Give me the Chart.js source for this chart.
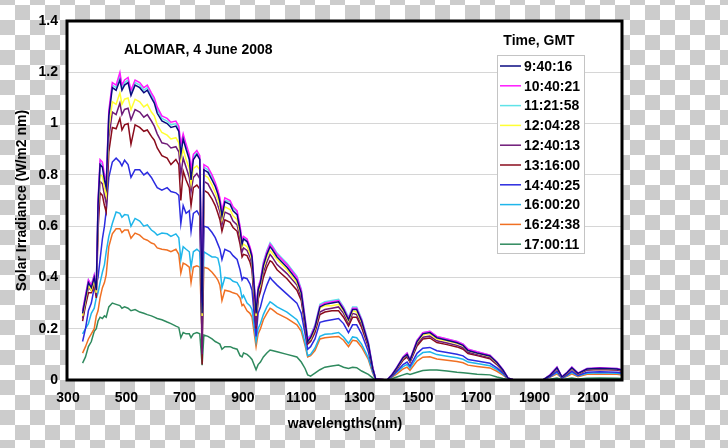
<!DOCTYPE html>
<html>
<head>
<meta charset="utf-8">
<script src="https://cdn.jsdelivr.net/npm/chart.js@4.4.1/dist/chart.umd.min.js"></script>
<style>
html, body { margin: 0; padding: 0; }
body {
  width: 728px; height: 448px; overflow: hidden;
  background-color: #fff;
  background-image: conic-gradient(#cccccc 25%, #ffffff 0 50%, #cccccc 0 75%, #ffffff 0);
  background-size: 30px 30px;
  background-position: 0px 5px;
}
</style>
</head>
<body>
<canvas id="spectra" width="728" height="448"></canvas>
<script>
// wavelengths in nm
const wavelengths = [
  350, 360, 370, 380, 390, 397, 403, 410, 418, 425,
  431, 440, 452, 465, 478, 485, 494, 506, 516, 530,
  546, 560, 572, 586, 596, 606, 622, 640, 653, 670,
  680, 687, 695, 705, 716, 722, 730, 742, 752, 760,
  766, 780, 794, 805, 814, 821, 828, 838, 856, 866,
  880, 890, 897, 902, 914, 924, 931, 945, 952, 960,
  970, 982, 993, 1000, 1017, 1051, 1085, 1100, 1113, 1122,
  1132, 1147, 1164, 1181, 1205, 1228, 1245, 1262, 1276, 1290,
  1307, 1330, 1345, 1355, 1394, 1410, 1428, 1449, 1463, 1473,
  1497, 1517, 1541, 1565, 1600, 1634, 1655, 1672, 1703, 1747,
  1771, 1792, 1809, 1830, 1929, 1953, 1977, 1994, 2012, 2028,
  2049, 2080, 2124, 2183, 2200
];

const xTicks = [300, 500, 700, 900, 1100, 1300, 1500, 1700, 1900, 2100];
const yTicks = [0, 0.2, 0.4, 0.6, 0.8, 1, 1.2, 1.4];

const times = ['9:40:16', '10:40:21', '11:21:58', '12:04:28', '12:40:13',
               '13:16:00', '14:40:25', '16:00:20', '16:24:38', '17:00:11'];

// irradiance, W/m2 nm
const t0940 = [
  .26, .32, .38, .36, .40, .35, .68, .84, .83, .78,
  .75, 1.03, 1.14, 1.13, 1.17, 1.13, 1.15, 1.16, 1.11, 1.15,
  1.14, 1.12, 1.13, 1.10, 1.08, 1.04, 1.01, 1.0, .985, .99,
  .97, .88, .94, .90, .86, .78, .86, .88, .86, .26,
  .82, .81, .78, .755, .725, .695, .64, .695, .685, .66,
  .645, .585, .53, .55, .54, .51, .48, .26, .35, .38,
  .445, .49, .52, .51, .48, .44, .39, .34, .23, .15,
  .165, .205, .285, .295, .30, .305, .275, .235, .275, .275,
  .23, .14, .045, .004, 0, .018, .048, .087, .10, .077,
  .15, .18, .185, .165, .155, .145, .135, .115, .105, .094,
  .068, .038, .007, 0, 0, .018, .048, .011, .029, .048,
  .026, .043, .046, .043, .038
];
const t1040 = [
  .27, .33, .39, .37, .41, .36, .70, .86, .85, .80,
  .77, 1.05, 1.16, 1.15, 1.20, 1.15, 1.17, 1.18, 1.13, 1.17,
  1.16, 1.14, 1.15, 1.12, 1.10, 1.065, 1.03, 1.02, 1.005, 1.01,
  .99, .92, .96, .92, .88, .82, .88, .895, .875, .30,
  .84, .83, .80, .77, .74, .71, .66, .71, .70, .675,
  .66, .60, .545, .56, .55, .52, .49, .28, .36, .39,
  .455, .50, .53, .52, .49, .45, .40, .35, .24, .16,
  .17, .21, .29, .30, .305, .31, .28, .24, .28, .28,
  .235, .145, .05, .005, 0, .02, .05, .09, .105, .08,
  .155, .185, .19, .17, .16, .15, .14, .12, .11, .097,
  .07, .04, .008, 0, 0, .02, .05, .012, .03, .05,
  .027, .045, .048, .045, .04
];
const t1121 = [
  .27, .33, .39, .37, .41, .36, .69, .85, .84, .79,
  .76, 1.04, 1.15, 1.14, 1.19, 1.14, 1.16, 1.17, 1.12, 1.16,
  1.15, 1.13, 1.14, 1.11, 1.09, 1.055, 1.02, 1.01, .995, 1.0,
  .98, .91, .95, .91, .87, .81, .87, .885, .865, .30,
  .83, .82, .79, .765, .735, .70, .655, .70, .695, .67,
  .655, .595, .54, .555, .545, .515, .485, .28, .36, .39,
  .46, .505, .535, .525, .495, .455, .405, .355, .245, .165,
  .175, .215, .295, .305, .31, .315, .285, .245, .285, .285,
  .24, .15, .05, .005, 0, .02, .05, .09, .105, .08,
  .155, .185, .19, .17, .16, .15, .14, .12, .11, .097,
  .07, .04, .008, 0, 0, .02, .05, .012, .03, .05,
  .027, .045, .048, .045, .04
];
const t1204 = [
  .25, .31, .37, .35, .39, .34, .655, .80, .795, .75,
  .72, .98, 1.085, 1.075, 1.12, 1.075, 1.095, 1.10, 1.055, 1.095,
  1.085, 1.065, 1.075, 1.045, 1.03, .995, .965, .955, .94, .945,
  .925, .86, .90, .86, .825, .765, .825, .835, .82, .25,
  .80, .79, .76, .73, .705, .675, .625, .675, .665, .64,
  .625, .57, .52, .53, .52, .495, .465, .25, .34, .37,
  .435, .48, .505, .495, .47, .43, .38, .335, .23, .15,
  .16, .20, .28, .29, .29, .295, .27, .23, .27, .265,
  .225, .14, .045, .004, 0, .019, .047, .085, .10, .076,
  .147, .175, .18, .16, .152, .142, .133, .114, .104, .092,
  .066, .038, .007, 0, 0, .019, .047, .011, .028, .047,
  .025, .043, .046, .043, .038
];
const t1240 = [
  .24, .30, .36, .35, .38, .33, .63, .775, .765, .72,
  .69, .945, 1.045, 1.035, 1.08, 1.035, 1.055, 1.06, 1.015, 1.055,
  1.045, 1.025, 1.035, 1.01, .99, .96, .925, .92, .905, .91,
  .89, .80, .865, .83, .79, .735, .79, .805, .785, .10,
  .775, .765, .735, .71, .68, .655, .605, .655, .645, .62,
  .605, .55, .50, .515, .505, .48, .45, .21, .33, .36,
  .42, .46, .49, .48, .45, .415, .37, .32, .22, .145,
  .155, .195, .265, .275, .28, .285, .26, .22, .26, .255,
  .215, .135, .045, .004, 0, .018, .045, .081, .095, .072,
  .14, .167, .171, .153, .144, .135, .126, .108, .099, .087,
  .063, .036, .007, 0, 0, .018, .045, .011, .027, .045,
  .024, .04, .043, .04, .036
];
const t1316 = [
  .23, .29, .34, .34, .37, .32, .58, .73, .72, .68,
  .655, .89, .985, .98, 1.02, .975, .995, 1.0, .92, .995,
  .985, .97, .975, .95, .935, .905, .875, .865, .84, .86,
  .84, .70, .815, .78, .75, .68, .75, .76, .745, .06,
  .74, .73, .705, .68, .65, .625, .58, .625, .615, .595,
  .58, .53, .48, .49, .485, .46, .43, .20, .315, .345,
  .40, .44, .465, .46, .43, .395, .35, .31, .21, .14,
  .15, .185, .255, .265, .27, .27, .245, .21, .245, .245,
  .205, .13, .044, .004, 0, .017, .043, .077, .09, .069,
  .133, .16, .164, .146, .138, .129, .12, .103, .095, .083,
  .06, .034, .007, 0, 0, .017, .043, .01, .026, .043,
  .023, .039, .041, .039, .034
];
const t1440 = [
  .15, .20, .27, .30, .36, .37, .40, .47, .55, .60,
  .66, .79, .85, .865, .85, .835, .857, .84, .79, .82,
  .82, .80, .81, .79, .77, .75, .74, .75, .735, .73,
  .72, .61, .68, .65, .66, .58, .65, .66, .64, .20,
  .60, .595, .575, .555, .53, .51, .47, .51, .50, .485,
  .47, .43, .39, .40, .395, .375, .35, .17, .26, .285,
  .33, .37, .40, .39, .37, .335, .30, .26, .18, .12,
  .13, .16, .225, .23, .235, .24, .22, .185, .215, .215,
  .18, .11, .038, .003, 0, .013, .034, .06, .07, .054,
  .104, .124, .127, .114, .107, .10, .094, .08, .074, .065,
  .047, .027, .005, 0, 0, .013, .034, .008, .02, .034,
  .018, .03, .032, .03, .027
];
const t1600 = [
  .18, .20, .22, .26, .28, .32, .34, .38, .42, .45,
  .50, .56, .61, .655, .65, .635, .645, .643, .60, .63,
  .62, .60, .605, .585, .577, .565, .573, .57, .56, .57,
  .555, .47, .52, .51, .50, .44, .50, .51, .50, .16,
  .50, .49, .48, .48, .475, .44, .36, .40, .395, .385,
  .38, .36, .32, .33, .30, .29, .275, .15, .20, .22,
  .255, .285, .305, .30, .285, .265, .235, .205, .145, .095,
  .10, .125, .17, .178, .18, .185, .168, .143, .168, .165,
  .14, .087, .03, .003, 0, .012, .03, .052, .061, .046,
  .09, .107, .11, .099, .093, .087, .081, .07, .064, .056,
  .041, .023, .005, 0, 0, .012, .029, .007, .017, .029,
  .016, .026, .028, .026, .023
];
const t1624 = [
  .105, .13, .16, .18, .20, .25, .27, .32, .36, .38,
  .41, .52, .57, .59, .59, .575, .585, .585, .553, .573,
  .565, .55, .545, .534, .53, .515, .51, .507, .50, .51,
  .49, .417, .456, .45, .44, .38, .44, .445, .44, .17,
  .44, .435, .42, .405, .39, .37, .31, .35, .345, .34,
  .335, .32, .29, .295, .27, .26, .245, .13, .18, .20,
  .235, .26, .28, .275, .26, .24, .215, .19, .135, .09,
  .095, .115, .16, .165, .168, .17, .155, .13, .155, .152,
  .128, .08, .027, .003, 0, .01, .024, .043, .05, .038,
  .074, .089, .091, .082, .077, .072, .067, .058, .053, .047,
  .034, .019, .004, 0, 0, .01, .024, .006, .014, .024,
  .013, .022, .023, .022, .019
];
const t1700 = [
  .066, .09, .13, .15, .19, .20, .23, .245, .24, .25,
  .245, .285, .30, .295, .29, .28, .285, .28, .27, .275,
  .265, .26, .255, .25, .245, .24, .235, .226, .22, .21,
  .205, .165, .185, .18, .18, .165, .18, .185, .18, .058,
  .175, .17, .16, .15, .145, .14, .12, .13, .13, .125,
  .12, .095, .09, .105, .10, .09, .08, .04, .06, .07,
  .09, .105, .117, .115, .11, .10, .09, .07, .045, .02,
  .015, .027, .04, .05, .055, .058, .05, .045, .05, .048,
  .035, .022, .008, 0, 0, .005, .012, .02, .025, .022,
  .03, .037, .039, .039, .035, .03, .028, .026, .022, .02,
  .012, .006, .002, 0, 0, .003, .008, .002, .005, .008,
  .004, .007, .008, .007, .006
];

const series = [t0940, t1040, t1121, t1204, t1240, t1316, t1440, t1600, t1624, t1700];
const colors = ['#0a0a80', '#ff1aff', '#5fe3e8', '#ffff33', '#6e1a78',
                '#8a0c1c', '#2b2be0', '#1fb6ea', '#f07023', '#2f8a5e'];

const boldFont = { family: '"Liberation Sans", Arial, sans-serif', size: 14, weight: 'bold' };

const datasets = times.map((t, i) => ({
  label: t,
  data: wavelengths.map((w, k) => ({ x: w, y: series[i][k] })),
  borderColor: colors[i],
  borderWidth: 1.5,
  pointRadius: 0,
  tension: 0,
  fill: false
}));

// white plot area, black frame, in-plot titles and the legend box
const plotFrame = {
  id: 'plotFrame',
  beforeDraw(chart) {
    const { ctx, chartArea: a } = chart;
    ctx.save();
    ctx.fillStyle = '#fff';
    ctx.fillRect(a.left, a.top, a.right - a.left, a.bottom - a.top);
    ctx.restore();
  },
  afterDraw(chart) {
    const { ctx, chartArea: a } = chart;
    ctx.save();
    ctx.strokeStyle = '#000';
    ctx.lineWidth = 3;
    ctx.strokeRect(a.left - 1, a.top, a.right - a.left + 1, a.bottom - a.top);

    ctx.fillStyle = '#000';
    ctx.font = 'bold 14px "Liberation Sans", Arial, sans-serif';
    ctx.textBaseline = 'middle';
    ctx.textAlign = 'left';
    ctx.fillText('ALOMAR, 4 June 2008', 124, 50);
    ctx.textAlign = 'center';
    ctx.fillText('Time, GMT', 539, 41);

    ctx.fillStyle = '#fff';
    ctx.fillRect(497, 55, 87, 198);
    ctx.strokeStyle = '#c4c4c4';
    ctx.lineWidth = 1;
    ctx.strokeRect(497.5, 55.5, 87, 198);
    chart.data.datasets.forEach((ds, i) => {
      const y = 66 + i * 19.8;
      ctx.strokeStyle = ds.borderColor;
      ctx.lineWidth = 1.5;
      ctx.beginPath();
      ctx.moveTo(500, y);
      ctx.lineTo(521, y);
      ctx.stroke();
      ctx.fillStyle = '#000';
      ctx.textAlign = 'left';
      ctx.fillText(ds.label, 524, y + 1);
    });
    ctx.restore();
  }
};

new Chart(document.getElementById('spectra'), {
  type: 'line',
  data: { datasets },
  options: {
    responsive: false,
    animation: false,
    layout: { padding: { top: 21, right: 106, left: 0, bottom: 0 } },
    plugins: { legend: { display: false }, tooltip: { enabled: false } },
    scales: {
      x: {
        type: 'linear',
        min: 300,
        max: 2200,
        afterBuildTicks: axis => { axis.ticks = xTicks.map(v => ({ value: v })); },
        afterFit: axis => { axis.height = 68; },
        grid: { display: false, drawTicks: false },
        border: { display: false },
        ticks: { padding: 10, color: '#000', font: boldFont, maxRotation: 0, autoSkip: false,
                 callback: v => String(v) },
        title: { display: true, text: 'wavelengths(nm)', color: '#000', font: boldFont,
                 padding: { top: 0, bottom: 15 } }
      },
      y: {
        min: 0,
        max: 1.4,
        afterBuildTicks: axis => { axis.ticks = yTicks.map(v => ({ value: v })); },
        afterFit: axis => { axis.width = 68; },
        grid: { color: '#d6d6d6', lineWidth: 1, drawTicks: false },
        border: { display: false },
        ticks: { padding: 10, color: '#000', font: boldFont,
                 callback: v => String(Math.round(v * 10) / 10) },
        title: { display: true, text: 'Solar Irradiance (W/m2 nm)', color: '#000', font: boldFont,
                 padding: { top: 14, bottom: 0 } }
      }
    }
  },
  plugins: [plotFrame]
});
</script>
</body>
</html>
